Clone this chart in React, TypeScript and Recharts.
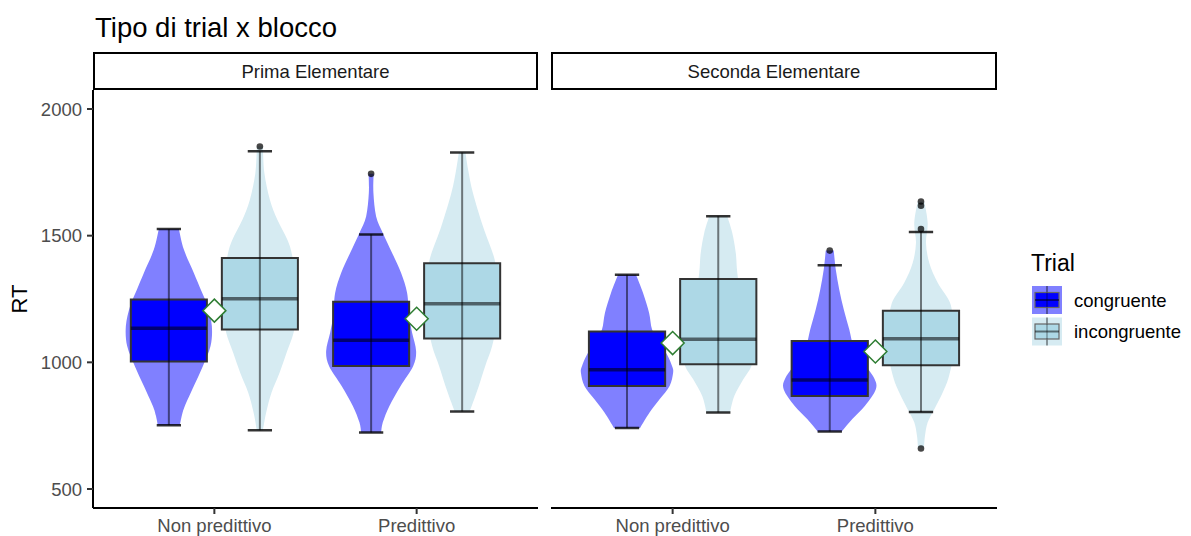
import React from "react";
import { ComposedChart, Scatter, XAxis, YAxis } from "recharts";

const FONT = "'Liberation Sans', Arial, Helvetica, sans-serif";

const TITLE = "Tipo di trial x blocco";
const PANELS = ["Prima Elementare", "Seconda Elementare"];
const BLOCKS = ["Non predittivo", "Predittivo"];
const TRIALS = ["congruente", "incongruente"];
const Y_TICKS = [500, 1000, 1500, 2000];

// Box statistics per block (Non predittivo, Predittivo): [lower whisker, Q1, median, Q3, upper whisker]
const primaCongruente = [[752, 1003, 1135, 1248, 1526], [723, 986, 1087, 1239, 1505]];
const primaIncongruente = [[732, 1130, 1251, 1412, 1833], [806, 1094, 1231, 1391, 1828]];
const secondaCongruente = [[741, 907, 971, 1122, 1346], [727, 867, 930, 1084, 1383]];
const secondaIncongruente = [[802, 992, 1091, 1329, 1577], [804, 988, 1093, 1204, 1514]];

// Means per block (diamonds)
const primaMeans = [1204, 1172];
const secondaMeans = [1076, 1043];

// Outliers: [block index, trial index, RT]
const primaOutliers = [[0, 1, 1852], [1, 0, 1744]];
const secondaOutliers = [[1, 0, 1441], [1, 1, 1635], [1, 1, 1618], [1, 1, 1526], [1, 1, 660]];

// Violin density profiles: [RT, density]
const violinPrimaNonPredCong = [[752, 11], [790, 13], [828, 16], [907, 25], [985, 34], [1064, 41.7], [1143, 43], [1222, 38.7], [1287, 32], [1353, 25], [1445, 15], [1526, 10]];
const violinPrimaNonPredInc = [[731, 3], [802, 6.3], [881, 11.7], [959, 19.7], [1038, 26.7], [1117, 33.7], [1200, 36.5], [1300, 36], [1418, 32.5], [1484, 27.5], [1563, 17.5], [1642, 10], [1747, 4.5], [1852, 3]];
const violinPrimaPredCong = [[723, 10], [763, 11.7], [828, 18.3], [907, 29.5], [985, 42], [1044, 45], [1117, 41], [1182, 38], [1274, 36], [1353, 30], [1432, 21], [1511, 11.7], [1576, 5], [1668, 2.3], [1744, 2.5]];
const violinPrimaPredInc = [[806, 7.5], [841, 10.8], [907, 16.7], [985, 23], [1064, 30], [1150, 34], [1250, 35], [1330, 34], [1406, 32.5], [1537, 20.8], [1668, 10.8], [1760, 6], [1828, 3.3]];
const violinSecondaNonPredCong = [[741, 13], [802, 22.5], [854, 32.5], [907, 42.5], [959, 46], [985, 45], [1030, 40], [1080, 32], [1130, 25], [1196, 22], [1274, 16], [1346, 9]];
const violinSecondaNonPredInc = [[802, 11.7], [867, 16], [933, 25], [985, 33], [1050, 36], [1150, 30], [1250, 23], [1353, 19], [1432, 17.5], [1511, 14], [1577, 9]];
const violinSecondaPredCong = [[727, 12], [776, 22.5], [828, 35], [894, 46], [940, 44], [1000, 33], [1060, 24], [1130, 19.5], [1209, 14], [1287, 9.5], [1366, 6], [1441, 4]];
const violinSecondaPredInc = [[664, 3], [710, 4], [763, 6.7], [815, 13.3], [881, 21.7], [946, 28], [1050, 33], [1150, 32], [1235, 29], [1314, 16.7], [1392, 8.3], [1471, 5], [1550, 6.7], [1635, 3.3]];

// Styling
const BOX_FILL = ["#0000ff", "#add8e6"];
const VIOLIN_FILL = ["#8080ff", "#d6ebf2"];
const DODGE = [-0.225, 0.225];
const BOX_HALF = 0.188;
const CAP_HALF = 0.06;
const VIOLIN_UNIT = 1 / 202.3;
const Y_DOMAIN = [425, 2075];

const panelData = [
  {
    name: PANELS[0],
    stats: [primaCongruente, primaIncongruente],
    violins: [[violinPrimaNonPredCong, violinPrimaPredCong], [violinPrimaNonPredInc, violinPrimaPredInc]],
    means: primaMeans,
    outliers: primaOutliers,
  },
  {
    name: PANELS[1],
    stats: [secondaCongruente, secondaIncongruente],
    violins: [[violinSecondaNonPredCong, violinSecondaPredCong], [violinSecondaNonPredInc, violinSecondaPredInc]],
    means: secondaMeans,
    outliers: secondaOutliers,
  },
];

type Pt = { x: number; y: number };

function spline(pts: Pt[]): string {
  let s = "";
  for (let i = 0; i < pts.length - 1; i++) {
    const p0 = pts[i - 1] || pts[i];
    const p1 = pts[i];
    const p2 = pts[i + 1];
    const p3 = pts[i + 2] || p2;
    const c1x = p1.x + (p2.x - p0.x) / 6;
    const c1y = p1.y + (p2.y - p0.y) / 6;
    const c2x = p2.x - (p3.x - p1.x) / 6;
    const c2y = p2.y - (p3.y - p1.y) / 6;
    s += `C${c1x},${c1y} ${c2x},${c2y} ${p2.x},${p2.y}`;
  }
  return s;
}

function PolyShape(props: any) {
  const { points, mode, pFill, pStroke, pWidth, pCap } = props;
  if (!points || points.length < 2) return null;
  let d = "";
  if (mode === "violin") {
    const n = points.length / 2;
    const right = points.slice(0, n);
    const left = points.slice(n);
    d = `M${right[0].x},${right[0].y}` + spline(right) + `L${left[0].x},${left[0].y}` + spline(left) + "Z";
  } else if (mode === "closed") {
    d = points.map((p: Pt, i: number) => `${i === 0 ? "M" : "L"}${p.x},${p.y}`).join("") + "Z";
  } else {
    for (let i = 0; i + 1 < points.length; i += 2) {
      d += `M${points[i].x},${points[i].y}L${points[i + 1].x},${points[i + 1].y}`;
    }
  }
  return (
    <path
      d={d}
      fill={pFill || "none"}
      stroke={pStroke || "none"}
      strokeWidth={pWidth || 0}
      strokeLinecap={pCap || "butt"}
      strokeLinejoin="miter"
    />
  );
}

const EmptyShape = () => <g />;

const OutlierShape = (p: any) => <circle cx={p.cx} cy={p.cy} r={3.3} fill="rgba(0,0,0,0.72)" />;

const DiamondShape = (p: any) => {
  const r = 11.5;
  return (
    <path
      d={`M${p.cx},${p.cy - r}L${p.cx + r},${p.cy}L${p.cx},${p.cy + r}L${p.cx - r},${p.cy}Z`}
      fill="#ffffff"
      stroke="#2e7d32"
      strokeWidth={1.5}
    />
  );
};

function Panel({ panel, left, width, showY }: any) {
  const violins: any[] = [];
  const boxes: any[] = [];
  const whiskers: any[] = [];
  const caps: any[] = [];
  const medians: any[] = [];

  for (let t = 0; t < TRIALS.length; t++) {
    for (let b = 0; b < BLOCKS.length; b++) {
      const cx = b + 1 + DODGE[t];
      const [lo, q1, med, q3, hi] = panel.stats[t][b];
      const prof: number[][] = panel.violins[t][b];
      const right = prof.map(([rt, dens]) => ({ x: cx + dens * VIOLIN_UNIT, y: rt }));
      const leftSide = prof.slice().reverse().map(([rt, dens]) => ({ x: cx - dens * VIOLIN_UNIT, y: rt }));
      violins.push(
        <Scatter
          key={`v-${t}-${b}`}
          data={[...right, ...leftSide]}
          line={<PolyShape mode="violin" pFill={VIOLIN_FILL[t]} />}
          shape={EmptyShape}
          isAnimationActive={false}
          legendType="none"
        />
      );
      boxes.push(
        <Scatter
          key={`b-${t}-${b}`}
          data={[
            { x: cx - BOX_HALF, y: q1 },
            { x: cx + BOX_HALF, y: q1 },
            { x: cx + BOX_HALF, y: q3 },
            { x: cx - BOX_HALF, y: q3 },
          ]}
          line={<PolyShape mode="closed" pFill={BOX_FILL[t]} pStroke="#333333" pWidth={2} />}
          shape={EmptyShape}
          isAnimationActive={false}
          legendType="none"
        />
      );
      whiskers.push(
        <Scatter
          key={`w-${t}-${b}`}
          data={[{ x: cx, y: lo }, { x: cx, y: hi }]}
          line={<PolyShape mode="segments" pStroke="rgba(0,0,0,0.5)" pWidth={2} />}
          shape={EmptyShape}
          isAnimationActive={false}
          legendType="none"
        />
      );
      caps.push(
        <Scatter
          key={`c-${t}-${b}`}
          data={[
            { x: cx - CAP_HALF, y: lo },
            { x: cx + CAP_HALF, y: lo },
            { x: cx - CAP_HALF, y: hi },
            { x: cx + CAP_HALF, y: hi },
          ]}
          line={<PolyShape mode="segments" pStroke="rgba(0,0,0,0.8)" pWidth={2.5} />}
          shape={EmptyShape}
          isAnimationActive={false}
          legendType="none"
        />
      );
      medians.push(
        <Scatter
          key={`m-${t}-${b}`}
          data={[{ x: cx - BOX_HALF, y: med }, { x: cx + BOX_HALF, y: med }]}
          line={<PolyShape mode="segments" pStroke="rgba(0,0,0,0.55)" pWidth={3.5} />}
          shape={EmptyShape}
          isAnimationActive={false}
          legendType="none"
        />
      );
    }
  }

  const outlierData = panel.outliers.map(([b, t, rt]: number[]) => ({ x: b + 1 + DODGE[t], y: rt }));
  const meanData = panel.means.map((m: number, i: number) => ({ x: i + 1, y: m }));

  return (
    <div style={{ position: "absolute", left, top: 0 }}>
      <ComposedChart width={width} height={536} margin={{ top: 90, right: 2, left: 0, bottom: 0 }}>
        <XAxis
          type="number"
          dataKey="x"
          domain={[0.4, 2.6]}
          ticks={[1, 2]}
          interval={0}
          allowDataOverflow
          tickFormatter={(v: number) => BLOCKS[Math.round(v) - 1]}
          height={28}
          tickSize={6}
          tickMargin={5}
          axisLine={{ stroke: "#000000", strokeWidth: 2 }}
          tickLine={{ stroke: "#333333", strokeWidth: 2 }}
          tick={{ fill: "#4d4d4d", fontSize: 18.5, fontFamily: FONT }}
        />
        <YAxis
          type="number"
          dataKey="y"
          domain={Y_DOMAIN}
          ticks={Y_TICKS}
          interval={0}
          allowDataOverflow
          hide={!showY}
          width={93}
          tickSize={6}
          tickMargin={5}
          axisLine={{ stroke: "#000000", strokeWidth: 2 }}
          tickLine={{ stroke: "#333333", strokeWidth: 2 }}
          tick={{ fill: "#4d4d4d", fontSize: 18.5, fontFamily: FONT }}
        />
        {violins}
        {boxes}
        {whiskers}
        {caps}
        {medians}
        <Scatter data={outlierData} shape={OutlierShape} isAnimationActive={false} legendType="none" />
        <Scatter data={meanData} shape={DiamondShape} isAnimationActive={false} legendType="none" />
      </ComposedChart>
    </div>
  );
}

function LegendKey({ y, t }: { y: number; t: number }) {
  return (
    <g>
      <rect x={1032} y={y} width={30} height={28} fill={VIOLIN_FILL[t]} />
      <line x1={1047} x2={1047} y1={y} y2={y + 28} stroke="rgba(0,0,0,0.5)" strokeWidth={1.5} />
      <rect x={1035} y={y + 6.5} width={24} height={15} fill={BOX_FILL[t]} stroke="#666" strokeWidth={1.2} />
      <line x1={1047} x2={1047} y1={y + 6.5} y2={y + 21.5} stroke="rgba(0,0,0,0.4)" strokeWidth={1.2} />
      <line x1={1035} x2={1059} y1={y + 14} y2={y + 14} stroke="rgba(0,0,0,0.5)" strokeWidth={2} />
    </g>
  );
}

export default function App() {
  return (
    <div style={{ position: "absolute", left: 0, top: 0, width: 1191, height: 536, background: "#ffffff", overflow: "hidden" }}>
      <Panel panel={panelData[0]} left={0} width={540} showY />
      <Panel panel={panelData[1]} left={551} width={448} showY={false} />
      <svg width={1191} height={536} style={{ position: "absolute", left: 0, top: 0, pointerEvents: "none" }}>
        <text x={95} y={37} fontFamily={FONT} fontSize={27.5} fill="#000000">{TITLE}</text>
        {panelData.map((p, i) => {
          const x0 = i === 0 ? 93 : 551;
          const x1 = i === 0 ? 538 : 997;
          return (
            <g key={p.name}>
              <rect x={x0 + 1} y={53} width={x1 - x0 - 2} height={36} fill="#ffffff" stroke="#000000" strokeWidth={2} />
              <text x={(x0 + x1) / 2} y={71.5} textAnchor="middle" dominantBaseline="central" fontFamily={FONT} fontSize={18.5} fill="#1a1a1a">
                {p.name}
              </text>
            </g>
          );
        })}
        <text x={19} y={299} transform="rotate(-90 19 299)" textAnchor="middle" dominantBaseline="central" fontFamily={FONT} fontSize={22} fill="#000000">RT</text>
        <text x={1031} y={263} dominantBaseline="central" fontFamily={FONT} fontSize={23} fill="#000000">Trial</text>
        <LegendKey y={286} t={0} />
        <LegendKey y={317.5} t={1} />
        <text x={1074} y={300} dominantBaseline="central" fontFamily={FONT} fontSize={18.5} fill="#000000">{TRIALS[0]}</text>
        <text x={1074} y={331.5} dominantBaseline="central" fontFamily={FONT} fontSize={18.5} fill="#000000">{TRIALS[1]}</text>
      </svg>
    </div>
  );
}
